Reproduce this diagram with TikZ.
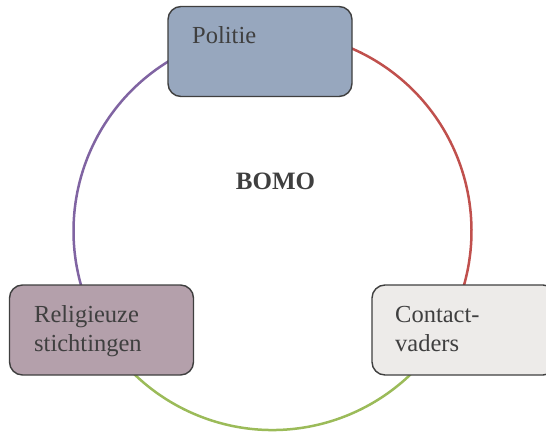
\documentclass[tikz,border=0pt]{standalone}
\usepackage{fontspec}
\setmainfont{Liberation Serif}
\begin{document}
\definecolor{linkred}{HTML}{C0504D}
\definecolor{linkpurple}{HTML}{8064A2}
\definecolor{linkgreen}{HTML}{9BBB59}
\definecolor{fillblue}{HTML}{97A7BE}
\definecolor{fillmauve}{HTML}{B4A0AB}
\definecolor{fillgrey}{HTML}{EDEBE9}
\definecolor{inkgrey}{HTML}{3F3F3F}
\begin{tikzpicture}[x=1pt,y=-1pt,
  partner/.style={draw=inkgrey, line width=1.4pt, rounded corners=13pt,
    minimum width=184pt, minimum height=90pt, inner sep=0pt},
  boxtext/.style={anchor=base west, inner sep=0pt, text=inkgrey,
    font=\fontsize{24.5}{29.5}\selectfont, align=left},
  link/.style={line width=2.5pt}]
\useasboundingbox (0,0) rectangle (546,431);
% ring of links around the central label (y axis points down, so angles run clockwise)
\coordinate (ring) at (272.5,231);
\draw[link, linkred]    (ring) ++(-90:199) arc[start angle=-90, end angle=20,   radius=199];
\draw[link, linkpurple] (ring) ++(-90:199) arc[start angle=-90, end angle=-200, radius=199];
\draw[link, linkgreen]  (ring) ++(25:199)  arc[start angle=25,  end angle=160,  radius=199];
% partner boxes
\node[partner, fill=fillblue]  (politie) at (260,51.5) {};
\node[partner, fill=fillmauve] (relig)   at (101.5,330) {};
\node[partner, fill=fillgrey]  (contact) at (464,330) {};
% box labels (base anchor sits on the last line)
\node[boxtext] (tpolitie) at (192,43) {Politie};
\node[boxtext] (trelig)   at (34,351.5) {Religieuze\\stichtingen};
\node[boxtext] (tcontact) at (395,351.5) {Contact-\\vaders};
% centre
\node[anchor=base, inner sep=0pt, text=inkgrey, font=\fontsize{25}{29}\selectfont\bfseries] (bomo) at (275.5,189) {BOMO};
\end{tikzpicture}
\end{document}
